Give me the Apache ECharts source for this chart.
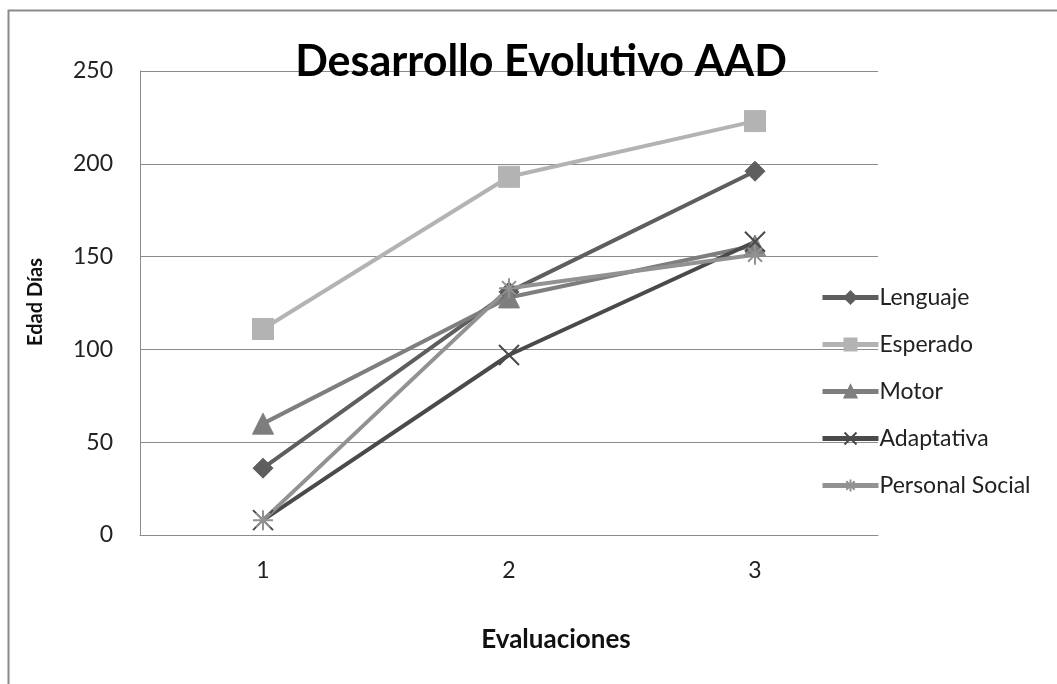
<!DOCTYPE html>
<html>
<head>
<meta charset="utf-8">
<script src="https://cdn.jsdelivr.net/npm/echarts@6/dist/echarts.min.js"></script>
<style>
html,body{margin:0;padding:0;background:#fff;}
#chart{width:1057px;height:684px;}
</style>
</head>
<body>
<div id="chart"></div>
<script>
var categories = ['1', '2', '3'];
var seriesNames = ['Lenguaje', 'Esperado', 'Motor', 'Adaptativa', 'Personal Social'];
var lenguaje = [36, 131, 196];
var esperado = [111, 193, 223];
var motor = [60, 128, 156];
var adaptativa = [8, 97, 158];
var personalSocial = [8, 133, 151];
var yTicks = [0, 50, 100, 150, 200, 250];

var FONT = 'Lato, "Open Sans", sans-serif';
var colors = ['#5e5e5e', '#b3b3b3', '#7e7e7e', '#4a4a4a', '#929292'];
var symbols = [
  'diamond',
  'rect',
  'triangle',
  'path://M0,0L10,10M10,0L0,10',
  'path://M0,5L10,5M5,0L5,10M1.5,1.5L8.5,8.5M8.5,1.5L1.5,8.5'
];
var sizes = [20, 21, 21, 20, 20];
var dataSets = [lenguaje, esperado, motor, adaptativa, personalSocial];

var chart = echarts.init(document.getElementById('chart'), null, {renderer: 'canvas'});

var series = seriesNames.map(function (name, i) {
  var isPath = symbols[i].indexOf('path://') === 0;
  return {
    name: name,
    type: 'line',
    data: dataSets[i],
    symbol: symbols[i],
    symbolSize: sizes[i],
    showAllSymbol: true,
    lineStyle: {color: colors[i], width: 4},
    itemStyle: isPath ? {color: 'rgba(0,0,0,0)', borderColor: colors[i], borderWidth: 2} : {color: colors[i], borderColor: colors[i], borderWidth: 1},
    emphasis: {disabled: true},
    animation: false
  };
});

chart.setOption({
  animation: false,
  backgroundColor: '#ffffff',
  title: {
    text: 'Desarrollo Evolutivo AAD',
    left: 536,
    textAlign: 'center',
    top: 36,
    textStyle: {fontFamily: FONT, fontWeight: 'bold', fontSize: 43, color: '#000'}
  },
  legend: {
    orient: 'vertical',
    left: 815,
    top: 281,
    itemWidth: 56,
    itemHeight: 15,
    itemGap: 24,
    data: seriesNames,
    lineStyle: {width: 5},
    textStyle: {fontFamily: FONT, fontSize: 23, color: '#222', padding: [0, 0, 0, -4]}
  },
  grid: {left: 140, right: 179, top: 71, bottom: 149, containLabel: false},
  xAxis: {
    type: 'category',
    data: categories,
    boundaryGap: true,
    axisLine: {show: true, lineStyle: {color: '#8c8c8c', width: 1}},
    axisTick: {show: false},
    axisLabel: {margin: 24, fontFamily: FONT, fontSize: 23, color: '#222'},
    splitLine: {show: false}
  },
  yAxis: {
    type: 'value',
    min: yTicks[0],
    max: yTicks[yTicks.length - 1],
    interval: 50,
    axisLine: {show: true, lineStyle: {color: '#8c8c8c', width: 1}},
    axisTick: {show: false},
    axisLabel: {margin: 27, fontFamily: FONT, fontSize: 23, color: '#222'},
    splitLine: {show: true, lineStyle: {color: '#8c8c8c', width: 1}}
  },
  graphic: [
    {type: 'rect', shape: {x: 8.5, y: 10.5, width: 1100, height: 700}, style: {fill: 'none', stroke: '#8a8a8a', lineWidth: 2}, z: 100, silent: true},
    {type: 'text', x: 556, y: 640, style: {text: 'Evaluaciones', x: 0, y: 0, align: 'center', verticalAlign: 'middle', font: 'bold 26px ' + FONT, fill: '#111'}},
    {type: 'text', x: 36, y: 302, rotation: Math.PI / 2, style: {text: 'Edad Días', align: 'center', verticalAlign: 'middle', font: 'bold 20px ' + FONT, fill: '#111'}}
  ],
  series: series
});
</script>
</body>
</html>
